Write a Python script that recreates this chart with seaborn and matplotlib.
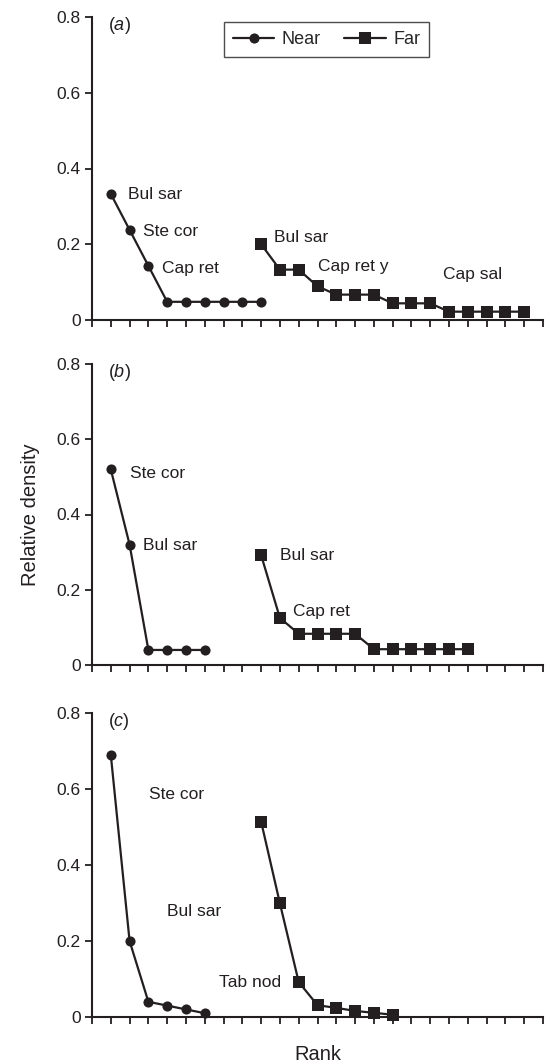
import numpy as np
import pandas as pd
import matplotlib
matplotlib.use("Agg")
import matplotlib.pyplot as plt
import seaborn as sns

sns.set_theme(style="ticks")
plt.rcParams['font.family'] = ['Liberation Sans', 'DejaVu Sans']
plt.rcParams['mathtext.fontset'] = 'custom'
plt.rcParams['mathtext.it'] = 'Liberation Sans:italic'
plt.rcParams['mathtext.rm'] = 'Liberation Sans'

INK = '#231f20'

# ---- data ----
panel_labels = ['a', 'b', 'c']

near_rank_a = [1, 2, 3, 4, 5, 6, 7, 8, 9]
near_val_a = [0.333, 0.238, 0.143, 0.048, 0.048, 0.048, 0.048, 0.048, 0.048]
far_rank_a = [9, 10, 11, 12, 13, 14, 15, 16, 17, 18, 19, 20, 21, 22, 23]
far_val_a = [0.200, 0.133, 0.133, 0.089, 0.067, 0.067, 0.067, 0.044, 0.044,
             0.044, 0.022, 0.022, 0.022, 0.022, 0.022]

near_rank_b = [1, 2, 3, 4, 5, 6]
near_val_b = [0.52, 0.32, 0.04, 0.04, 0.04, 0.04]
far_rank_b = [9, 10, 11, 12, 13, 14, 15, 16, 17, 18, 19, 20]
far_val_b = [0.292, 0.125, 0.083, 0.083, 0.083, 0.083, 0.042, 0.042, 0.042,
             0.042, 0.042, 0.042]

near_rank_c = [1, 2, 3, 4, 5, 6]
near_val_c = [0.69, 0.20, 0.04, 0.03, 0.02, 0.01]
far_rank_c = [9, 10, 11, 12, 13, 14, 15, 16]
far_val_c = [0.514, 0.299, 0.092, 0.031, 0.024, 0.016, 0.011, 0.006]

# annotations: (text, x, y)
notes_a = [("Bul sar", 1.9, 0.332), ("Ste cor", 2.7, 0.233), ("Cap ret", 3.75, 0.137),
           ("Bul sar", 9.7, 0.218), ("Cap ret y", 12.0, 0.141), ("Cap sal", 18.7, 0.119)]
notes_b = [("Ste cor", 2.0, 0.509), ("Bul sar", 2.7, 0.317),
           ("Bul sar", 10.0, 0.292), ("Cap ret", 10.7, 0.142)]
notes_c = [("Ste cor", 3.05, 0.585), ("Bul sar", 3.97, 0.277), ("Tab nod", 6.77, 0.092)]

y_ticks = [0, 0.2, 0.4, 0.6, 0.8]
y_tick_labels = ["0", "0.2", "0.4", "0.6", "0.8"]
x_max = 24

panels = [
    (near_rank_a, near_val_a, far_rank_a, far_val_a, notes_a),
    (near_rank_b, near_val_b, far_rank_b, far_val_b, notes_b),
    (near_rank_c, near_val_c, far_rank_c, far_val_c, notes_c),
]

fig = plt.figure(figsize=(5.5, 10.64), dpi=100)
left, width = 92 / 550, (543 - 92) / 550
tops = [17, 364, 713]
bottoms = [320, 665, 1017]
H = 1064

axes = []
for i, (nr, nv, fr, fv, notes) in enumerate(panels):
    ax = fig.add_axes([left, 1 - bottoms[i] / H, width, (bottoms[i] - tops[i]) / H])
    axes.append(ax)
    df = pd.concat([
        pd.DataFrame({'Rank': nr, 'Density': nv, 'Group': 'Near'}),
        pd.DataFrame({'Rank': fr, 'Density': fv, 'Group': 'Far'}),
    ], ignore_index=True)
    sns.lineplot(data=df, x='Rank', y='Density', hue='Group', style='Group',
                 palette={'Near': INK, 'Far': INK},
                 markers={'Near': 'o', 'Far': 's'}, dashes=False,
                 linewidth=1.6, markeredgewidth=0, ax=ax, legend=(i == 0),
                 sort=False, estimator=None, clip_on=False)
    for line in ax.get_lines():
        if line.get_marker() == 'o':
            line.set_markersize(7.3)
        elif line.get_marker() == 's':
            line.set_markersize(8.6)
    ax.set_xlim(0, x_max)
    ax.set_ylim(0, 0.8)
    ax.set_xticks(np.arange(0, x_max + 1, 1))
    ax.set_xticklabels([])
    ax.set_yticks(y_ticks)
    ax.set_yticklabels(y_tick_labels, fontsize=12.5, color=INK)
    ax.tick_params(axis='x', length=5, width=1.3, color=INK, direction='out')
    ax.tick_params(axis='y', length=5, width=1.3, color=INK, direction='out', pad=3)
    for s in ['top', 'right']:
        ax.spines[s].set_visible(False)
    for s in ['left', 'bottom']:
        ax.spines[s].set_linewidth(1.5)
        ax.spines[s].set_color(INK)
    ax.set_xlabel('')
    ax.set_ylabel('')
    for t, x, y in notes:
        ax.text(x, y, t, fontsize=12.5, color=INK, ha='left', va='center')
    ax.text(0.85, 0.778, r"($\mathit{%s}$)" % panel_labels[i], fontsize=13,
            color=INK, ha='left', va='center')

# legend
leg_ax = axes[0]
handles, labels = leg_ax.get_legend_handles_labels()
if leg_ax.get_legend() is not None:
    leg_ax.get_legend().remove()
for h in handles:
    h.set_linewidth(1.6)
    if h.get_marker() == 'o':
        h.set_markersize(7.3)
    else:
        h.set_markersize(8.6)
leg = leg_ax.legend(handles, labels, loc='upper center', bbox_to_anchor=(0.52, 1.012),
                    ncol=2, frameon=True, fancybox=False, fontsize=13,
                    handlelength=2.3, columnspacing=1.3, handletextpad=0.4,
                    borderpad=0.5, edgecolor=INK)
leg.get_frame().set_linewidth(1.0)

axes[1].set_ylabel('Relative density', fontsize=14.5, color=INK, labelpad=12)
axes[2].set_xlabel('Rank', fontsize=14.5, color=INK, labelpad=12)

fig.savefig('out.png', dpi=100)
